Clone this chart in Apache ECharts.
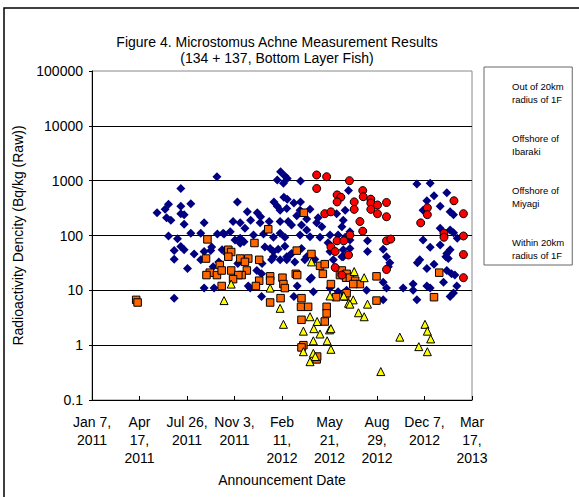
<!DOCTYPE html>
<html>
<head>
<meta charset="utf-8">
<script src="https://cdn.jsdelivr.net/npm/echarts@6/dist/echarts.min.js"></script>
<style>
html,body{margin:0;padding:0;background:#fff;}
#chart{width:579px;height:497px;}
</style>
</head>
<body>
<div id="chart"></div>
<script>
// Title lines
const titleLines = ['Figure 4. Microstomus Achne Measurement Results', '(134 + 137, Bottom Layer Fish)'];
const xAxisName = 'Announcement Date';
const yAxisName = 'Radioactivity Dencity (Bq/kg (Raw))';

// Series names and legend labels
const seriesNames = ['Out of 20km radius of 1F', 'Offshore of Ibaraki', 'Offshore of Miyagi', 'Within 20km radius of 1F'];
const legendLabels = ['Out of 20km\nradius of 1F', 'Offshore of\nIbaraki', 'Offshore of\nMiyagi', 'Within 20km\nradius of 1F'];

// X axis: days since Jan 7, 2011 (ticks every 100 days)
const xTickLabels = ['Jan 7,\n2011', 'Apr\n17,\n2011', 'Jul 26,\n2011', 'Nov 3,\n2011', 'Feb\n11,\n2012', 'May\n21,\n2012', 'Aug\n29,\n2012', 'Dec 7,\n2012', 'Mar\n17,\n2013'];
const yTickLabels = ['0.1', '1', '10', '100', '1000', '10000', '100000'];

// Data: [days since Jan 7 2011, Bq/kg]
const out20km = [
[263,1180],[187,720],[161,370],[154,300],[137,260],[187,340],[208,380],[157,210],[166,190],[187,250],[194,240],[194,160],[236,170],[161,98],[180,87],[208,110],[229,110],[264,107],[278,107],[187,63],[194,55],[173,53],[173,37],[215,46],[201,25],[229,36],[236,51],[250,53],[236,11],[257,11],[173,7.2],[252,62],[255,27],[274,55],[284,46],[267,33],
[397,1460],[390,1030],[406,1220],[411,1100],[403,900],[439,990],[306,410],[327,270],[348,260],[355,220],[383,410],[390,340],[404,500],[411,460],[425,390],[439,410],[410,310],[438,290],[459,300],[431,230],[396,290],[452,200],[297,180],[312,170],[322,135],[334,190],[354,170],[373,180],[396,180],[413,180],[420,155],[441,155],[452,126],[473,170],[476,210],[484,145],[515,250],[533,290],
[276,110],[291,117],[312,89],[340,102],[361,107],[382,93],[396,110],[406,93],[438,102],[459,95],[480,93],[501,102],[518,102],[533,93],[312,72],[320,77],[301,83],[375,58],[382,51],[392,56],[382,41],[396,36],[410,41],[420,47],[441,58],[448,36],[469,37],[501,51],[508,36],[529,41],[497,74],[462,17],[432,12],[459,16],[378,36],[410,36],
[347,23],[357,20],[329,12],[357,7.7],[425,7.7],[466,9.4],[501,11],[518,9.4],[536,10],[333,11],[417,44],[452,41],[364,62],[406,64],[427,33],[358,31],[307,31],
[540,660],[529,190],[526,145],[543,117],[543,83],[543,58],[580,80],[580,51],[613,56],[620,41],[627,32],[624,27],[578,10],[613,14],[620,11],[613,6.7],[655,11],[676,13],[676,10],[684,6.7],[705,12],[712,11],[705,25],[720,30],[690,36],[685,32],[712,61],[697,83],[733,67],[747,47],[754,55],[745,41],[750,38],[747,23],[757,20],[764,19],[768,12],[761,8.9],[754,7.7],[740,14],[684,870],[712,900],[720,530],[747,600],[733,340],[754,270],[761,240],[705,430],[697,290],[754,126],[733,135],[761,112],[769,89],[526,41],[529,55]
];
const ibaraki = [
[93,6.7],[96,6.0],[243,85],[240,38],[269,29],[248,21],[241,19],[263,19],[273,12],[287,55],[446,260],[371,130],[342,73],[431,53],[462,46],[293,50],[287,41],[312,38],[329,38],[352,36],[326,23],[293,23],[273,23],[315,19],[308,19],[352,15],[375,18],[375,15],[401,17],[403,13],[406,11],[429,20],[432,19],[345,12],[480,28],[490,30],[486,20],[503,13],[522,19],[535,17],[397,7.2],[375,6.0],[441,7.2],[440,5.0],[455,5.0],[441,2.9],[494,5.0],[494,3.8],[490,2.7],[445,1.0],[441,0.91],[473,0.55],[474,0.62],[514,7.5],[533,7.7],[322,33],[297,16],[731,21],[720,7.5],[599,18],[599,6.5],[526,23],[536,20],[543,17],[554,15],[564,13],[550,13],[536,8.9]
];
const miyagi = [
[278,6.5],[293,13],[375,11],[396,4.7],[403,2.4],[459,3.3],[474,2.7],[467,2.0],[480,1.6],[445,1.8],[466,1.2],[495,1.2],[500,1.9],[503,2.0],[445,0.76],[459,0.50],[466,0.71],[470,0.62],[503,0.84],[501,7.9],[530,7.9],[540,5.8],[462,33],[552,22],[573,17],[550,6.7],[543,5.6],[580,5.6],[561,3.9],[573,3.3],[608,0.33],[648,1.4],[701,2.4],[706,1.8],[713,1.3],[688,0.94],[706,0.76]
];
const within20km = [
[473,1270],[494,1180],[473,720],[542,1000],[516,550],[524,500],[516,410],[490,250],[503,270],[516,80],[530,80],[503,62],[512,51],[540,44],[512,26],[526,19],[570,660],[571,510],[552,410],[552,300],[587,460],[587,390],[601,360],[587,300],[601,250],[620,400],[620,220],[564,180],[570,120],[543,102],[620,80],[629,86],[620,24],[762,430],[706,320],[706,240],[692,170],[741,110],[741,93],[782,250],[782,98],[782,45],[782,17]
];

const FONT = "'Liberation Sans', Arial, sans-serif";
const chart = echarts.init(document.getElementById('chart'), null, {renderer: 'svg'});

chart.setOption({
  animation: false,
  backgroundColor: '#fff',
  textStyle: {fontFamily: FONT},
  title: {
    text: titleLines.join('\n'),
    left: 277, top: 34, padding: 0, textAlign: 'center',
    textStyle: {fontSize: 14, fontWeight: 'normal', color: '#000', lineHeight: 16, fontFamily: FONT}
  },
  graphic: [{
    type: 'rect', silent: true, z: 100,
    shape: {x: 4, y: 8, width: 640, height: 600},
    style: {fill: 'none', stroke: '#000', lineWidth: 1.5}
  }],
  legend: {
    orient: 'vertical', left: 484, top: 67,
    padding: [13, 8, 3, 21],
    itemGap: 26, itemWidth: 1, itemHeight: 1,
    borderColor: '#666', borderWidth: 1, backgroundColor: '#fff',
    selectedMode: false,
    data: seriesNames,
    itemStyle: {opacity: 0},
    formatter: (name) => legendLabels[seriesNames.indexOf(name)],
    textStyle: {fontSize: 9.5, lineHeight: 13, color: '#000', fontFamily: FONT}
  },
  grid: {left: 92, right: 107, top: 71, bottom: 97, show: true, borderColor: '#888', borderWidth: 1},
  xAxis: {
    type: 'value', min: 0, max: 800, interval: 100,
    name: xAxisName, nameLocation: 'middle', nameGap: 73,
    nameTextStyle: {fontSize: 14, color: '#000', fontFamily: FONT},
    axisLine: {show: true, lineStyle: {color: '#000', width: 1}},
    axisTick: {show: true, inside: true, length: 4, lineStyle: {color: '#000'}},
    axisLabel: {
      fontSize: 14, lineHeight: 18, color: '#000', margin: 13, fontFamily: FONT,
      formatter: (v) => xTickLabels[Math.round(v / 100)]
    },
    splitLine: {show: false}
  },
  yAxis: {
    type: 'log', logBase: 10, min: 0.1, max: 100000, splitNumber: 6,
    name: yAxisName, nameLocation: 'middle', nameGap: 63,
    nameTextStyle: {fontSize: 14, color: '#000', fontFamily: FONT},
    axisLine: {show: true, lineStyle: {color: '#000', width: 1}},
    axisTick: {show: true, length: 3, lineStyle: {color: '#000'}},
    axisLabel: {
      fontSize: 14, color: '#000', margin: 9, fontFamily: FONT,
      formatter: (v) => yTickLabels[Math.round(Math.log10(v)) + 1]
    },
    splitLine: {show: true, showMinLine: false, showMaxLine: false, lineStyle: {color: '#000', width: 1}}
  },
  series: [
    {name: seriesNames[0], type: 'scatter', data: out20km, symbol: 'diamond', symbolSize: 9,
     itemStyle: {color: '#000080', opacity: 1}},
    {name: seriesNames[1], type: 'scatter', data: ibaraki, symbol: 'rect', symbolSize: 7.5,
     itemStyle: {color: '#FF6600', borderColor: '#000', borderWidth: 1, opacity: 1}},
    {name: seriesNames[2], type: 'scatter', data: miyagi, symbol: 'triangle', symbolSize: 8,
     itemStyle: {color: '#FFFF00', borderColor: '#000', borderWidth: 1, opacity: 1}},
    {name: seriesNames[3], type: 'scatter', data: within20km, symbol: 'circle', symbolSize: 8,
     itemStyle: {color: '#FF0000', borderColor: '#000', borderWidth: 1, opacity: 1}}
  ]
});
</script>
</body>
</html>
